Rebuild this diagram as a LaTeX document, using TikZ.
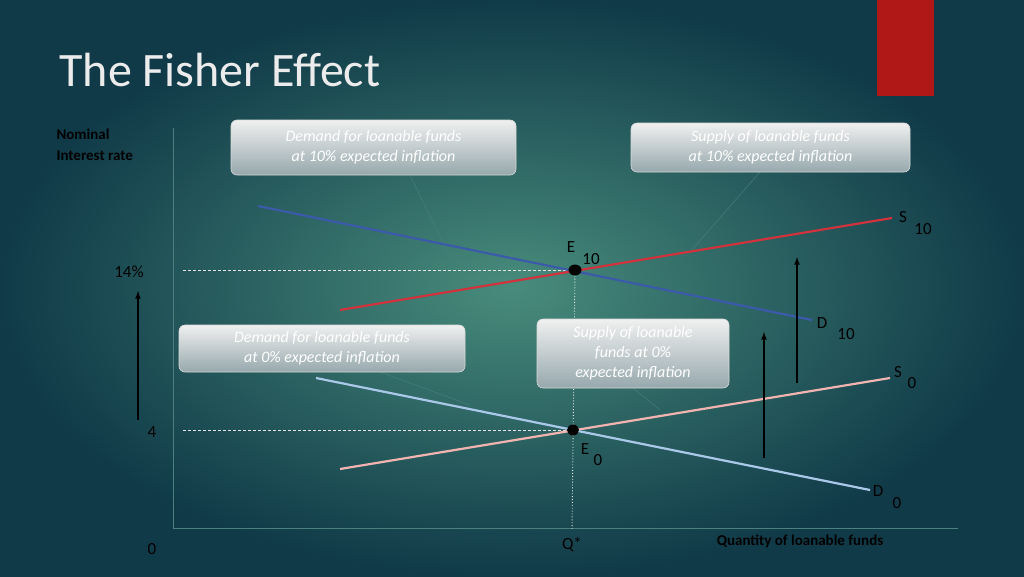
\documentclass[tikz,border=0pt]{standalone}
\usepackage{fontspec}
\setmainfont{Carlito}
\definecolor{bgin}{RGB}{72,140,124}
\definecolor{bgout}{RGB}{16,58,72}
\definecolor{barred}{RGB}{176,24,24}
\definecolor{dten}{RGB}{60,90,170}
\definecolor{sten}{RGB}{210,50,60}
\definecolor{szero}{RGB}{242,180,176}
\definecolor{dzero}{RGB}{170,200,232}
\definecolor{boxbot}{RGB}{150,168,172}
\begin{document}
\begin{tikzpicture}[x=1pt,y=-1pt,
  call/.style={rounded corners=6pt,top color=white!88!gray,bottom color=boxbot,draw=white!70!gray,line width=0.6pt,text=white,font=\itshape\fontsize{16}{20}\selectfont,align=center,inner sep=0pt},
  lbl/.style={text=black,font=\fontsize{17}{19}\selectfont},
  sub/.style={text=black,font=\fontsize{17}{19}\selectfont},
  curve/.style={line width=2.2pt},
  guide/.style={white!80!gray,densely dashed,line width=0.7pt},
  up/.style={-latex,line width=1.6pt,black},
  ptr/.style={gray!60!teal,line width=0.4pt}]
\useasboundingbox (0,0) rectangle (1024,576);
\shade[inner color=bgin,outer color=bgout] (0,0) rectangle (1024,576);
\fill[barred] (877,0) rectangle (934,96);
\node[anchor=west,text=white!85!gray,font=\fontsize{48}{50}\selectfont] (title) at (56,70) {The Fisher Effect};
% axes
\coordinate (o) at (173,528);
\draw[gray!60!teal,line width=0.6pt] (173,128) -- (o) -- (958,528);
% guides
\coordinate (g14) at (183,270); \coordinate (g4) at (183,430); \coordinate (qb) at (572,530);
\coordinate (E10) at (575,270);
\coordinate (E0) at (573,430);
\draw[guide] (g14) -- (E10); \draw[guide] (g4) -- (E0);
\draw[white!85!gray,dotted,line width=0.9pt] (E10) -- (qb);
% pointers
\draw[ptr] (410,175) -- (450,258);
\draw[ptr] (760,172) -- (690,252);
\draw[ptr] (380,372) -- (470,405);
\draw[ptr] (633,388) -- (660,410);
% curves
\coordinate (d10a) at (258,206); \coordinate (d10b) at (812,320);
\coordinate (s10a) at (340,310); \coordinate (s10b) at (892,218);
\coordinate (s0a) at (340,469); \coordinate (s0b) at (890,378);
\coordinate (d0a) at (316,378); \coordinate (d0b) at (870,490);
\draw[curve,dten] (d10a) -- (d10b);
\draw[curve,sten] (s10a) -- (s10b);
\draw[curve,szero] (s0a) -- (s0b);
\draw[curve,dzero] (d0a) -- (d0b);
\fill[black] (E10) ellipse (6.5pt and 5.5pt);
\fill[black] (E0) ellipse (6pt and 5.5pt);
% arrows
\coordinate (a1s) at (138,420); \coordinate (a1e) at (138,291);
\coordinate (a2s) at (764,458); \coordinate (a2e) at (764,332);
\coordinate (a3s) at (797,383); \coordinate (a3e) at (797,257);
\draw[up] (a1s) -- (a1e); \draw[up] (a2s) -- (a2e); \draw[up] (a3s) -- (a3e);
% callouts
\node[call,minimum width=285pt,minimum height=55pt] (c1) at (373.5,147.5) {Demand for loanable funds\\at 10\% expected inflation};
\node[call,minimum width=279pt,minimum height=49pt] (c2) at (770.5,147.5) {Supply of loanable funds\\at 10\% expected inflation};
\node[call,minimum width=286pt,minimum height=47pt] (c3) at (322,348.5) {Demand for loanable funds\\at 0\% expected inflation};
\node[call,minimum width=192pt,minimum height=69pt] (c4) at (633,353.5) {Supply of loanable\\funds at 0\%\\expected inflation};
% labels
\node[anchor=west,font=\bfseries\fontsize{15}{21}\selectfont,align=left] (yl) at (53,145) {Nominal\\Interest rate};
\node[lbl] (l14) at (129,272) {14\%};
\node[lbl] (l4) at (152,432) {4};
\node[lbl] (l0) at (152,549) {0};
\node[lbl] (lq) at (572,545) {Q*};
\node[font=\bfseries\fontsize{15}{18}\selectfont] (xl) at (800,541) {Quantity of loanable funds};
\node[sub] at (903,217) {S}; \node[sub] at (923,229) {10};
\node[sub] at (571,247) {E}; \node[sub] at (591,259) {10};
\node[sub] at (822,323) {D}; \node[sub] at (846,334) {10};
\node[sub] at (898,372) {S}; \node[sub] at (912,383) {0};
\node[sub] at (585,449) {E}; \node[sub] at (598,460) {0};
\node[sub] at (878,491) {D}; \node[sub] at (897,503) {0};
\end{tikzpicture}
\end{document}
